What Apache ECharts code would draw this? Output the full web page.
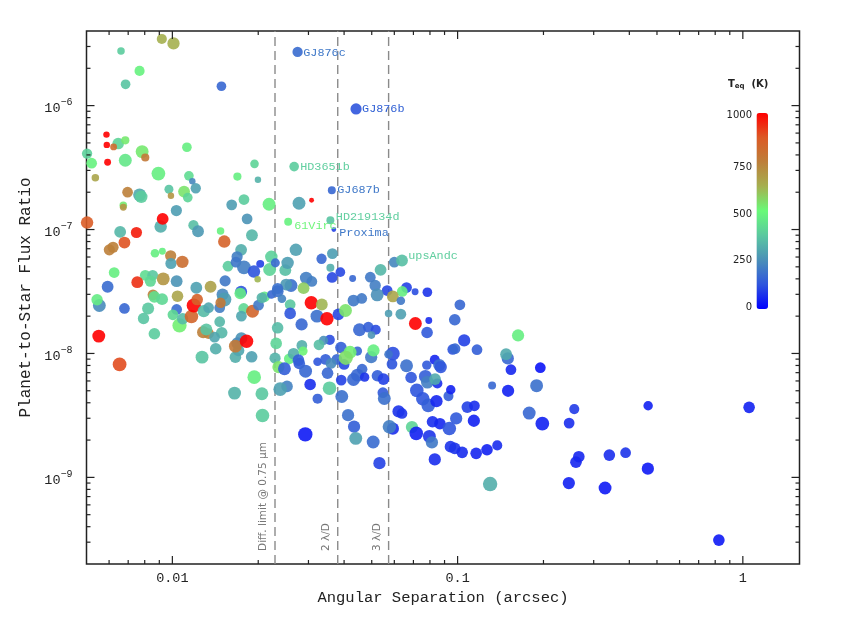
<!DOCTYPE html>
<html>
<head>
<meta charset="utf-8">
<title>Planet-to-Star Flux Ratio</title>
<script src="https://cdn.jsdelivr.net/npm/echarts@6/dist/echarts.min.js"></script>
<style>
  html, body { margin: 0; padding: 0; background: #fff; }
  #chart { width: 850px; height: 635px; }
</style>
</head>
<body>
<div id="chart"></div>
<script>
// values: log10(arcsec), log10(flux ratio), marker radius, Teq in K
const logSeparation = [
  -2.037,-1.996,-2.180,-2.115,-2.164,-1.828,-1.561,-1.356,-2.231,-2.230,
  -2.190,-2.165,-2.206,-2.299,-2.283,-2.227,-2.165,-2.106,-2.095,-1.949,
  -2.270,-2.049,-1.942,-1.930,-1.918,-1.959,-2.012,-2.005,-2.157,-2.115,
  -2.109,-1.946,-2.172,-2.172,-1.986,-2.041,-2.034,-2.299,-1.926,-1.910,
  -2.183,-2.126,-2.168,-1.818,-1.831,-2.208,-2.221,-2.061,-2.035,-2.006,
  -2.005,-1.965,-2.204,-2.095,-2.069,-2.077,-2.032,-2.123,-2.227,-1.985,
  -1.916,-1.866,-1.815,-1.805,-1.759,-1.773,-1.777,-1.749,-1.714,-1.692,
  -1.701,-1.653,-1.659,-1.639,-1.604,-1.596,-1.567,-1.477,-1.439,-1.446,
  -1.440,-1.411,-1.368,-1.306,-1.289,-1.270,-1.222,-1.195,-1.179,-1.247,
  -1.149,-1.106,-1.194,-1.227,-1.531,-1.511,-1.584,-1.601,-1.631,-1.540,
  -1.573,-1.441,-1.512,-1.556,-1.661,-1.749,-1.792,-1.738,-1.721,-1.712,
  -1.772,-1.700,-1.594,-1.446,-1.434,-2.256,-2.264,-2.168,-2.258,-2.185,
  -2.068,-2.063,-2.036,-2.085,-2.101,-2.063,-1.982,-1.985,-1.998,-1.975,
  -1.964,-1.933,-1.925,-1.913,-1.890,-1.873,-1.834,-1.892,-1.873,-1.881,
  -1.827,-1.852,-1.848,-1.896,-1.824,-1.818,-1.834,-1.831,-1.759,-1.762,
  -1.750,-1.758,-1.719,-1.698,-1.677,-1.686,-1.653,-1.631,-1.616,-1.587,
  -1.587,-1.547,-1.631,-1.636,-1.640,-1.628,-1.590,-1.575,-1.546,-1.542,
  -1.558,-1.555,-1.607,-1.533,-1.491,-1.517,-1.491,-1.598,-1.622,-1.534,
  -1.513,-1.493,-1.476,-1.713,-1.782,-1.686,-1.684,-1.758,-1.772,-1.779,
  -1.768,-1.779,-1.740,-1.722,-1.282,-1.199,-1.365,-1.336,-0.992,-1.242,
  -1.199,-1.148,-1.101,-1.107,-1.010,-0.977,-0.932,-1.017,-1.009,-1.458,
  -1.418,-1.393,-1.344,-1.313,-1.287,-1.302,-1.448,-1.470,-1.486,-1.409,
  -1.351,-1.423,-1.398,-1.377,-1.392,-1.303,-1.295,-1.227,-1.242,-1.230,
  -1.463,-1.444,-1.456,-1.335,-1.351,-1.365,-1.326,-1.408,-1.449,-1.406,
  -1.384,-1.363,-1.357,-1.296,-1.274,-1.281,-1.260,-1.262,-1.257,-1.207,
  -1.195,-1.227,-1.239,-1.160,-1.145,-1.099,-1.090,-1.080,-1.179,-1.163,
  -1.108,-1.080,-1.064,-1.059,-1.113,-1.106,-1.071,-1.079,-1.143,-1.122,
  -1.103,-1.074,-1.032,-1.024,-1.088,-1.062,-1.029,-1.005,-0.966,-0.941,
  -0.943,-0.879,-0.823,-1.025,-1.010,-0.984,-0.935,-0.897,-0.861,-0.886,
  -0.788,-0.824,-0.830,-0.813,-0.710,-0.723,-0.749,-0.703,-0.609,-0.591,
  -0.332,0.022,-0.610,-0.585,-0.575,-0.483,-0.468,-0.411,-0.333,-0.084
];
const logFluxRatio = [
  -5.462,-5.498,-5.559,-5.720,-5.828,-5.844,-5.567,-6.027,-6.234,-6.317,
  -6.306,-6.280,-6.333,-6.387,-6.465,-6.457,-6.441,-6.371,-6.419,-6.336,
  -6.583,-6.548,-6.567,-6.610,-6.667,-6.694,-6.675,-6.728,-6.699,-6.720,
  -6.736,-6.742,-6.804,-6.820,-6.847,-6.976,-6.914,-6.944,-6.965,-7.014,
  -7.019,-7.024,-7.105,-7.097,-7.011,-7.143,-7.164,-7.191,-7.175,-7.212,
  -7.274,-7.261,-7.347,-7.369,-7.369,-7.417,-7.398,-7.425,-7.462,-7.417,
  -7.470,-7.462,-7.414,-7.296,-7.164,-7.220,-7.264,-7.306,-7.339,-7.277,
  -7.401,-7.220,-7.323,-7.269,-7.328,-7.269,-7.164,-7.236,-7.194,-7.309,
  -7.387,-7.344,-7.395,-7.385,-7.452,-7.325,-7.264,-7.250,-7.468,-7.492,
  -7.502,-7.506,-7.500,-7.540,-7.390,-7.419,-7.452,-7.444,-7.476,-7.473,
  -6.492,-6.683,-6.764,-6.788,-6.796,-6.758,-6.801,-6.914,-7.046,-6.470,
  -6.573,-6.599,-6.938,-6.925,-7.000,-7.613,-7.567,-7.637,-7.860,-8.089,
  -7.527,-7.543,-7.562,-7.637,-7.718,-7.841,-7.538,-7.645,-7.688,-7.774,
  -7.720,-7.702,-7.613,-7.565,-7.659,-7.631,-7.744,-7.828,-7.839,-7.806,
  -7.833,-7.869,-7.962,-8.030,-7.524,-7.565,-7.631,-7.591,-7.502,-7.516,
  -7.637,-7.699,-7.659,-7.610,-7.543,-7.551,-7.524,-7.498,-7.559,-7.605,
  -7.677,-7.766,-7.793,-7.919,-8.038,-8.110,-8.043,-8.002,-7.935,-7.981,
  -8.054,-8.081,-8.123,-8.143,-8.067,-8.250,-8.365,-8.266,-8.288,-8.653,
  -7.591,-7.699,-7.605,-8.191,-8.320,-8.325,-8.500,-7.877,-7.917,-8.030,
  -7.976,-7.941,-7.901,-8.027,-7.527,-7.575,-7.573,-7.556,-7.607,-7.677,
  -7.683,-7.758,-7.734,-7.831,-7.728,-7.895,-7.970,-7.968,-7.962,-7.720,
  -7.685,-7.653,-7.809,-7.788,-7.809,-7.852,-7.890,-7.895,-7.930,-7.952,
  -7.981,-8.048,-8.089,-7.990,-8.035,-8.030,-7.976,-8.002,-8.006,-8.086,
  -8.048,-8.081,-8.159,-8.127,-8.175,-8.210,-8.191,-8.215,-8.280,-8.347,
  -8.498,-8.591,-8.685,-8.715,-8.885,-8.180,-8.207,-8.317,-8.363,-8.468,
  -8.484,-8.607,-8.591,-8.594,-8.645,-8.669,-8.718,-8.855,-8.099,-8.194,
  -8.094,-8.051,-8.094,-8.110,-8.185,-8.231,-8.242,-8.207,-8.298,-8.365,
  -8.419,-8.385,-8.344,-8.293,-8.551,-8.567,-8.605,-8.524,-8.433,-8.422,
  -8.543,-8.258,-8.301,-8.752,-8.766,-8.798,-8.806,-8.777,-8.742,-9.054,
  -7.855,-8.040,-8.006,-8.131,-8.115,-8.260,-8.481,-8.567,-8.562,-8.449,
  -8.422,-8.435,-9.046,-8.877,-8.833,-9.086,-8.820,-8.801,-8.930,-9.506
];
const planetSize = [
  4.7,5.7,3.5,4.7,4.5,4.5,4.8,5.2,3,3,
  5.4,3.8,3.2,4.8,5,3.2,6,6,3.8,4.5,
  3.5,6.4,4.5,3,4.8,5.5,4.2,3,5,6,
  5.8,4.5,3.5,3.2,5.2,5.8,5.5,5.8,4.8,5.5,
  5.5,5.2,5.5,5.8,3.5,5.2,5.2,4,3.2,5.2,
  5.2,5.8,5,5,5,5.2,6,5.5,5.5,5.5,
  5.5,5.5,5.2,5,5.5,5.2,5,6.4,5.8,3.7,
  3,5.8,6,4.2,5.5,5.8,5.8,4.8,5,3.7,
  5,4.5,3.2,5,5.3,5.5,5,5.5,5,5,
  3.2,4.5,5,5.5,5.8,5,6,5.5,5.2,5.5,
  4.5,3.7,2.3,6,6,5,5,5,5.5,4,
  3.8,3,3.7,3.7,2.2,6,5.3,5,6,6.4,
  5,5.5,5.5,5.6,5.3,5.4,5.4,5,5,6.6,
  5.3,6.3,6.6,5.4,5.7,5,5,5.7,5,5.6,
  5.4,5,5.4,6,5.6,6.6,5,4.8,5.6,5.4,
  5,5,6,5,5,5,4,5.6,4,5,
  5.4,5.7,5.4,5.4,5.2,5.7,5,5.4,5,4.3,
  5.4,5.4,6,6,4,5.4,4.7,5.4,6.3,6.7,
  6.2,6,5.5,6.3,6,6,6.3,5.6,5.6,5.4,
  5.4,6,6.3,5.4,6,4,5.5,5,5,3.5,
  5,6,3.2,5.4,5.4,5.7,5,5,5,6.2,
  5.4,6,6,5,4.7,3.5,4.7,4.3,5,5.4,
  4.3,5,5,6,6.6,5.7,5.7,6.4,4,5,
  5,5,5.4,5,6,6,4.4,5,6.3,6,
  5.7,5.7,6,6,5.7,5.4,5.4,5,6,5.7,
  5,5.7,6.3,5.7,6.3,6,5.7,5.7,6,5.4,
  4.4,4.7,5.7,5.7,6,6,4.7,5.4,6.3,6.3,
  6.3,5.7,4.7,4.4,5.4,5.4,6.3,5.7,5.4,5,
  5.7,3.7,5.7,5.4,5.4,5.4,5.4,5.4,4.7,6.7,
  5.7,5.7,5.5,5,5,6,6,6.4,5,4.7,
  4.4,5.4,5.7,5.4,5.4,6,5.4,5,5.7,5.4
];
const teq = [
  650,650,400,500,380,170,180,130,1040,1040,
  420,550,850,410,500,1040,470,550,800,490,
  680,490,440,240,300,560,380,720,780,320,
  400,420,550,720,290,330,1040,900,370,280,
  350,1000,920,880,500,780,780,490,490,780,
  300,840,490,440,390,430,720,970,180,270,
  300,690,210,400,330,220,200,220,130,100,
  640,410,420,180,370,290,300,170,290,330,
  110,110,170,210,220,350,240,370,100,110,
  120,80,490,680,220,220,190,280,190,600,
  400,170,1040,300,490,400,290,270,350,420,
  490,340,500,380,100,250,480,170,1040,930,
  780,450,430,390,380,400,680,180,430,540,
  360,870,1040,880,360,310,350,780,780,380,
  350,310,330,380,240,290,220,800,130,480,
  430,310,870,210,470,340,170,190,230,390,
  130,170,360,420,340,560,490,330,330,530,
  150,150,150,170,130,70,150,230,300,40,
  1040,190,640,490,340,390,400,270,250,330,
  310,800,1040,300,260,210,210,210,170,290,
  300,1040,70,140,170,100,150,130,170,1040,
  110,560,170,150,120,270,120,260,370,150,
  170,170,110,540,570,210,490,120,200,130,
  150,250,170,170,170,170,80,100,400,190,
  190,150,300,180,100,150,100,140,190,80,
  80,70,220,420,50,80,210,70,190,130,
  140,60,180,130,150,220,70,320,130,130,
  150,60,150,50,70,60,130,140,100,70,
  50,170,50,80,80,70,60,50,70,330,
  490,170,320,60,30,190,170,50,70,90,
  50,50,50,60,60,40,70,80,40,40
];

// planet names, anchored in data units where the text starts
const planetNames = ['GJ876c', 'GJ876b', 'HD3651b', 'GJ687b', 'HD219134d', '61Virc', 'Proxima', 'upsAndc'];
const planetNameSep = [-1.541, -1.335, -1.552, -1.422, -1.427, -1.573, -1.415, -1.173];
const planetNameFlux = [-5.573, -6.024, -6.496, -6.681, -6.899, -6.968, -7.028, -7.214];
const planetNameColors = ['#3f78c8', '#2f5fd4', '#62cfa0', '#3f78c8', '#62cfa0', '#70f57c', '#3f78c8', '#62cfa0'];

// vertical reference lines
const limitSeparations = [0.0229, 0.038, 0.0573];
const limitLabels = ['Diff. limit @ 0.75 \u03bcm', '2 \u03bb/D', '3 \u03bb/D'];
const limitLabelSep = [0.0208, 0.0346, 0.0522];
const limitLabelFlux = 2.55e-10;

const xMin = 0.005, xMax = 1.58;
const yMin = 2e-10, yMax = 4e-6;
const xMajorTicks = [0.01, 0.1, 1];
const xMinorTicks = [0.006, 0.007, 0.008, 0.009, 0.02, 0.03, 0.04, 0.05, 0.06, 0.07, 0.08, 0.09,
  0.2, 0.3, 0.4, 0.5, 0.6, 0.7, 0.8, 0.9];
const yMajorTicks = [1e-9, 1e-8, 1e-7, 1e-6];
const yMinorTicks = [3e-10, 4e-10, 5e-10, 6e-10, 7e-10, 8e-10, 9e-10,
  2e-9, 3e-9, 4e-9, 5e-9, 6e-9, 7e-9, 8e-9, 9e-9,
  2e-8, 3e-8, 4e-8, 5e-8, 6e-8, 7e-8, 8e-8, 9e-8,
  2e-7, 3e-7, 4e-7, 5e-7, 6e-7, 7e-7, 8e-7, 9e-7,
  2e-6, 3e-6];

const teqRamp = ['#0000ff', '#2f55dd', '#4a90b8', '#5ac8a0', '#68fa78', '#a5b050', '#bd7f3a', '#dc5a25', '#ff0000'];
const teqTickLabels = ['1000', '750', '500', '250', '0'];
const teqTickY = [115, 167.7, 214, 260.3, 307];

const frameColor = '#222';
const monoFont = '"Liberation Mono", monospace';
const sansFont = '"DejaVu Sans", sans-serif';

const points = logSeparation.map((s, i) => [10 ** s, 10 ** logFluxRatio[i], teq[i], planetSize[i]]);

// every tick, major and minor, drawn inward on all four sides of the frame
function renderTicks(params, api) {
  const children = [];
  const addTick = (a, dx, dy, len) => {
    children.push({
      type: 'line',
      shape: { x1: a[0], y1: a[1], x2: a[0] + dx * len, y2: a[1] + dy * len },
      style: { stroke: frameColor, lineWidth: 1.2 }
    });
  };
  const xTicks = (list, len) => list.forEach(v => {
    addTick(api.coord([v, yMin]), 0, -1, len);
    addTick(api.coord([v, yMax]), 0, 1, len);
  });
  const yTicks = (list, len) => list.forEach(v => {
    addTick(api.coord([xMin, v]), 1, 0, len);
    addTick(api.coord([xMax, v]), -1, 0, len);
  });
  xTicks(xMajorTicks, 8);
  xTicks(xMinorTicks, 4);
  yTicks(yMajorTicks, 8);
  yTicks(yMinorTicks, 4);
  return { type: 'group', children };
}

const option = {
  animation: false,
  backgroundColor: '#fff',
  grid: {
    left: 86.5, top: 31, width: 713, height: 533,
    show: true, borderColor: frameColor, borderWidth: 1.5, backgroundColor: 'transparent'
  },
  xAxis: {
    type: 'log', logBase: 10, min: xMin, max: xMax,
    name: 'Angular Separation (arcsec)',
    nameLocation: 'middle', nameGap: 25,
    nameTextStyle: { fontFamily: monoFont, fontSize: 15.5, color: '#222' },
    axisLine: { show: false },
    axisTick: { show: false },
    splitLine: { show: false },
    minorTick: { show: false },
    axisLabel: {
      margin: 7, fontFamily: monoFont, fontSize: 13.5, color: '#222',
      showMinLabel: false, showMaxLabel: false,
      formatter: v => (xMajorTicks.some(t => Math.abs(t - v) / t < 1e-6) ? String(v) : '')
    }
  },
  yAxis: {
    type: 'log', logBase: 10, min: yMin, max: yMax,
    name: 'Planet-to-Star Flux Ratio',
    nameLocation: 'middle', nameGap: 49,
    nameTextStyle: { fontFamily: monoFont, fontSize: 16, color: '#222' },
    axisLine: { show: false },
    axisTick: { show: false },
    splitLine: { show: false },
    minorTick: { show: false },
    axisLabel: {
      margin: 14, showMinLabel: false, showMaxLabel: false,
      formatter: v => {
        const e = Math.log10(v);
        if (Math.abs(e - Math.round(e)) > 1e-6) return '';
        return '{base|10}{exp|\u2212' + Math.abs(Math.round(e)) + '}';
      },
      rich: {
        base: { fontFamily: monoFont, fontSize: 13.5, color: '#222', padding: [6, 0, 0, 0] },
        exp: { fontFamily: monoFont, fontSize: 10, color: '#222', padding: [0, 0, 6, 0] }
      }
    }
  },
  visualMap: {
    type: 'continuous',
    seriesIndex: 0,
    dimension: 2,
    min: 0, max: 1040,
    left: 756.5, top: 113,
    itemWidth: 11.5, itemHeight: 196,
    calculable: false,
    hoverLink: false,
    showLabel: false,
    padding: 0,
    inRange: { color: teqRamp }
  },
  series: [
    {
      name: 'Planets',
      type: 'scatter',
      z: 3,
      clip: false,
      data: points,
      symbolSize: d => d[3] * 2.15,
      itemStyle: { opacity: 0.9 }
    },
    ...limitSeparations.map(x => ({
      type: 'line',
      z: 2,
      symbol: 'none',
      silent: true,
      data: [[x, yMin], [x, yMax]],
      lineStyle: { color: '#8a8a8a', width: 1.4, type: [9, 5] }
    })),
    {
      type: 'custom',
      z: 4,
      clip: false,
      silent: true,
      data: [[xMin, yMin]],
      renderItem: renderTicks
    },
    {
      type: 'custom',
      z: 5,
      clip: false,
      silent: true,
      data: planetNames.map((n, i) => [10 ** planetNameSep[i], 10 ** planetNameFlux[i], i]),
      renderItem: (params, api) => {
        const p = api.coord([api.value(0), api.value(1)]);
        const i = api.value(2);
        return {
          type: 'text', x: p[0], y: p[1],
          style: {
            text: planetNames[i], fill: planetNameColors[i],
            font: '11.8px ' + monoFont, align: 'left', verticalAlign: 'middle'
          }
        };
      }
    },
    {
      type: 'custom',
      z: 5,
      clip: false,
      silent: true,
      data: limitLabels.map((n, i) => [limitLabelSep[i], limitLabelFlux, i]),
      renderItem: (params, api) => {
        const p = api.coord([api.value(0), api.value(1)]);
        return {
          type: 'text', x: p[0], y: p[1], rotation: Math.PI / 2,
          style: {
            text: limitLabels[api.value(2)], fill: '#777',
            font: '10.5px ' + sansFont, align: 'left', verticalAlign: 'middle'
          }
        };
      }
    }
  ],
  graphic: [
    {
      type: 'text', x: 728, y: 84,
      style: {
        text: '{t|T}{s|eq}{t|  (K)}',
        verticalAlign: 'middle',
        rich: {
          t: { font: 'bold 10px ' + sansFont, fill: '#222' },
          s: { font: 'bold 7px ' + sansFont, fill: '#222', padding: [5, 0, 0, 0] }
        }
      }
    },
    ...teqTickLabels.map((t, i) => ({
      type: 'text', x: 752, y: teqTickY[i],
      style: { text: t, fill: '#222', font: '10px ' + sansFont, align: 'right', verticalAlign: 'middle' }
    }))
  ]
};

const chart = echarts.init(document.getElementById('chart'), null, { renderer: 'canvas' });
chart.setOption(option);
</script>
</body>
</html>
